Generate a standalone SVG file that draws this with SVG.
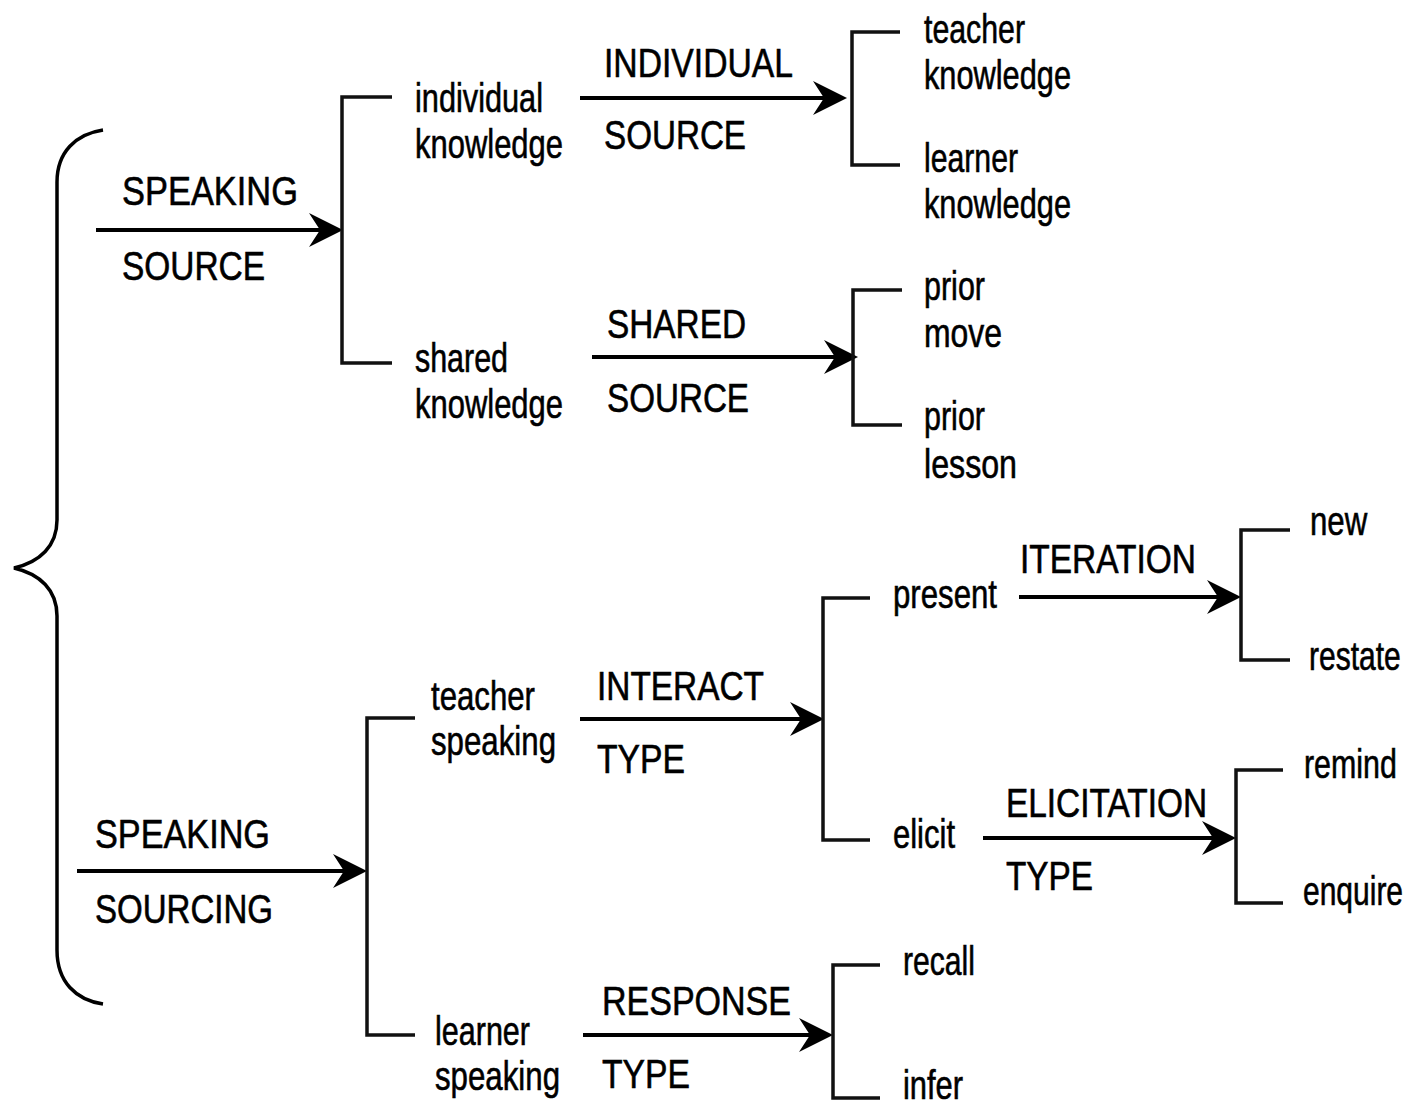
<svg xmlns="http://www.w3.org/2000/svg" width="1410" height="1108" viewBox="0 0 1410 1108">
  <style>
    text { font-family: "Liberation Sans", Arial, sans-serif; font-size: 40px; fill: #000; stroke: #000; stroke-width: 0.6; }
    .arrow { stroke: #000; stroke-width: 4; fill: none; }
    .bracket { stroke: #111; stroke-width: 3.5; fill: none; }
    .brace { stroke: #000; stroke-width: 3.5; fill: none; }
  </style>
  <defs>
    <marker id="head" markerUnits="userSpaceOnUse" markerWidth="40" markerHeight="40" viewBox="-36 -20 40 40" refX="-4" refY="0" orient="auto" overflow="visible">
      <polygon points="0,0 -34,-17 -23,0 -34,17" fill="#000"/>
    </marker>
  </defs>

  <!-- connectors: brace, brackets and labelled arrows -->
  <g id="connectors">
    <path class="brace" d="M103,130 C76,134 57,152 57,182 L57,520 C57,546 40,562 14,568 C40,574 57,590 57,616 L57,950 C57,982 76,1000 103,1004"/>

    <!-- speaking source branch -->
    <line class="arrow" x1="96" y1="230" x2="339" y2="230" marker-end="url(#head)"/>
    <path class="bracket" d="M392,97 H342 V363 H392"/>

    <line class="arrow" x1="580" y1="98" x2="843" y2="98" marker-end="url(#head)"/>
    <path class="bracket" d="M900,32 H852 V165 H900"/>

    <line class="arrow" x1="592" y1="357" x2="854" y2="357" marker-end="url(#head)"/>
    <path class="bracket" d="M902,290 H853 V425 H902"/>

    <!-- speaking sourcing branch -->
    <line class="arrow" x1="77" y1="871" x2="363" y2="871" marker-end="url(#head)"/>
    <path class="bracket" d="M415,718 H367 V1035 H415"/>

    <line class="arrow" x1="580" y1="719" x2="820" y2="719" marker-end="url(#head)"/>
    <path class="bracket" d="M870,598 H823 V840 H870"/>

    <line class="arrow" x1="1019" y1="597" x2="1237" y2="597" marker-end="url(#head)"/>
    <path class="bracket" d="M1290,530 H1241 V660 H1290"/>

    <line class="arrow" x1="983" y1="838" x2="1232" y2="838" marker-end="url(#head)"/>
    <path class="bracket" d="M1283,770 H1236 V903 H1283"/>

    <line class="arrow" x1="583" y1="1035" x2="829" y2="1035" marker-end="url(#head)"/>
    <path class="bracket" d="M880,965 H833 V1098 H880"/>
  </g>

  <!-- labels -->
  <g id="speaking-source">
    <text x="122" y="205" textLength="176" lengthAdjust="spacingAndGlyphs">SPEAKING</text>
    <text x="122" y="280" textLength="143" lengthAdjust="spacingAndGlyphs">SOURCE</text>
  </g>
  <g id="individual-knowledge">
    <text x="415" y="112" textLength="128" lengthAdjust="spacingAndGlyphs">individual</text>
    <text x="415" y="158" textLength="148" lengthAdjust="spacingAndGlyphs">knowledge</text>
  </g>
  <g id="shared-knowledge">
    <text x="415" y="372" textLength="93" lengthAdjust="spacingAndGlyphs">shared</text>
    <text x="415" y="418" textLength="148" lengthAdjust="spacingAndGlyphs">knowledge</text>
  </g>
  <g id="individual-source">
    <text x="604" y="77" textLength="189" lengthAdjust="spacingAndGlyphs">INDIVIDUAL</text>
    <text x="604" y="149" textLength="142" lengthAdjust="spacingAndGlyphs">SOURCE</text>
  </g>
  <g id="teacher-knowledge">
    <text x="924" y="43" textLength="101" lengthAdjust="spacingAndGlyphs">teacher</text>
    <text x="924" y="89" textLength="147" lengthAdjust="spacingAndGlyphs">knowledge</text>
  </g>
  <g id="learner-knowledge">
    <text x="924" y="172" textLength="94" lengthAdjust="spacingAndGlyphs">learner</text>
    <text x="924" y="218" textLength="147" lengthAdjust="spacingAndGlyphs">knowledge</text>
  </g>
  <g id="shared-source">
    <text x="607" y="338" textLength="139" lengthAdjust="spacingAndGlyphs">SHARED</text>
    <text x="607" y="412" textLength="142" lengthAdjust="spacingAndGlyphs">SOURCE</text>
  </g>
  <g id="prior-move">
    <text x="924" y="300" textLength="61" lengthAdjust="spacingAndGlyphs">prior</text>
    <text x="924" y="347" textLength="78" lengthAdjust="spacingAndGlyphs">move</text>
  </g>
  <g id="prior-lesson">
    <text x="924" y="430" textLength="61" lengthAdjust="spacingAndGlyphs">prior</text>
    <text x="924" y="478" textLength="93" lengthAdjust="spacingAndGlyphs">lesson</text>
  </g>

  <g id="speaking-sourcing">
    <text x="95" y="848" textLength="175" lengthAdjust="spacingAndGlyphs">SPEAKING</text>
    <text x="95" y="923" textLength="178" lengthAdjust="spacingAndGlyphs">SOURCING</text>
  </g>
  <g id="teacher-speaking">
    <text x="431" y="710" textLength="104" lengthAdjust="spacingAndGlyphs">teacher</text>
    <text x="431" y="755" textLength="125" lengthAdjust="spacingAndGlyphs">speaking</text>
  </g>
  <g id="learner-speaking">
    <text x="435" y="1045" textLength="95" lengthAdjust="spacingAndGlyphs">learner</text>
    <text x="435" y="1090" textLength="125" lengthAdjust="spacingAndGlyphs">speaking</text>
  </g>
  <g id="interact-type">
    <text x="597" y="700" textLength="167" lengthAdjust="spacingAndGlyphs">INTERACT</text>
    <text x="597" y="773" textLength="88" lengthAdjust="spacingAndGlyphs">TYPE</text>
  </g>
  <g id="present">
    <text x="893" y="608" textLength="104" lengthAdjust="spacingAndGlyphs">present</text>
  </g>
  <g id="elicit">
    <text x="893" y="848" textLength="62" lengthAdjust="spacingAndGlyphs">elicit</text>
  </g>
  <g id="iteration">
    <text x="1020" y="573" textLength="176" lengthAdjust="spacingAndGlyphs">ITERATION</text>
  </g>
  <!-- right-hand leaves: narrowed by a horizontal scale so they stay inside the frame -->
  <g id="new">
    <text transform="translate(1310,535) scale(0.78,1)">new</text>
  </g>
  <g id="restate">
    <text transform="translate(1309,670) scale(0.75,1)">restate</text>
  </g>
  <g id="elicitation-type">
    <text x="1006" y="817" textLength="201" lengthAdjust="spacingAndGlyphs">ELICITATION</text>
    <text x="1006" y="890" textLength="87" lengthAdjust="spacingAndGlyphs">TYPE</text>
  </g>
  <g id="remind">
    <text transform="translate(1304,778) scale(0.76,1)">remind</text>
  </g>
  <g id="enquire">
    <text transform="translate(1303,905) scale(0.75,1)">enquire</text>
  </g>
  <g id="response-type">
    <text x="602" y="1015" textLength="189" lengthAdjust="spacingAndGlyphs">RESPONSE</text>
    <text x="602" y="1088" textLength="88" lengthAdjust="spacingAndGlyphs">TYPE</text>
  </g>
  <g id="recall">
    <text x="903" y="975" textLength="72" lengthAdjust="spacingAndGlyphs">recall</text>
  </g>
  <g id="infer">
    <text x="903" y="1099" textLength="60" lengthAdjust="spacingAndGlyphs">infer</text>
  </g>
</svg>
